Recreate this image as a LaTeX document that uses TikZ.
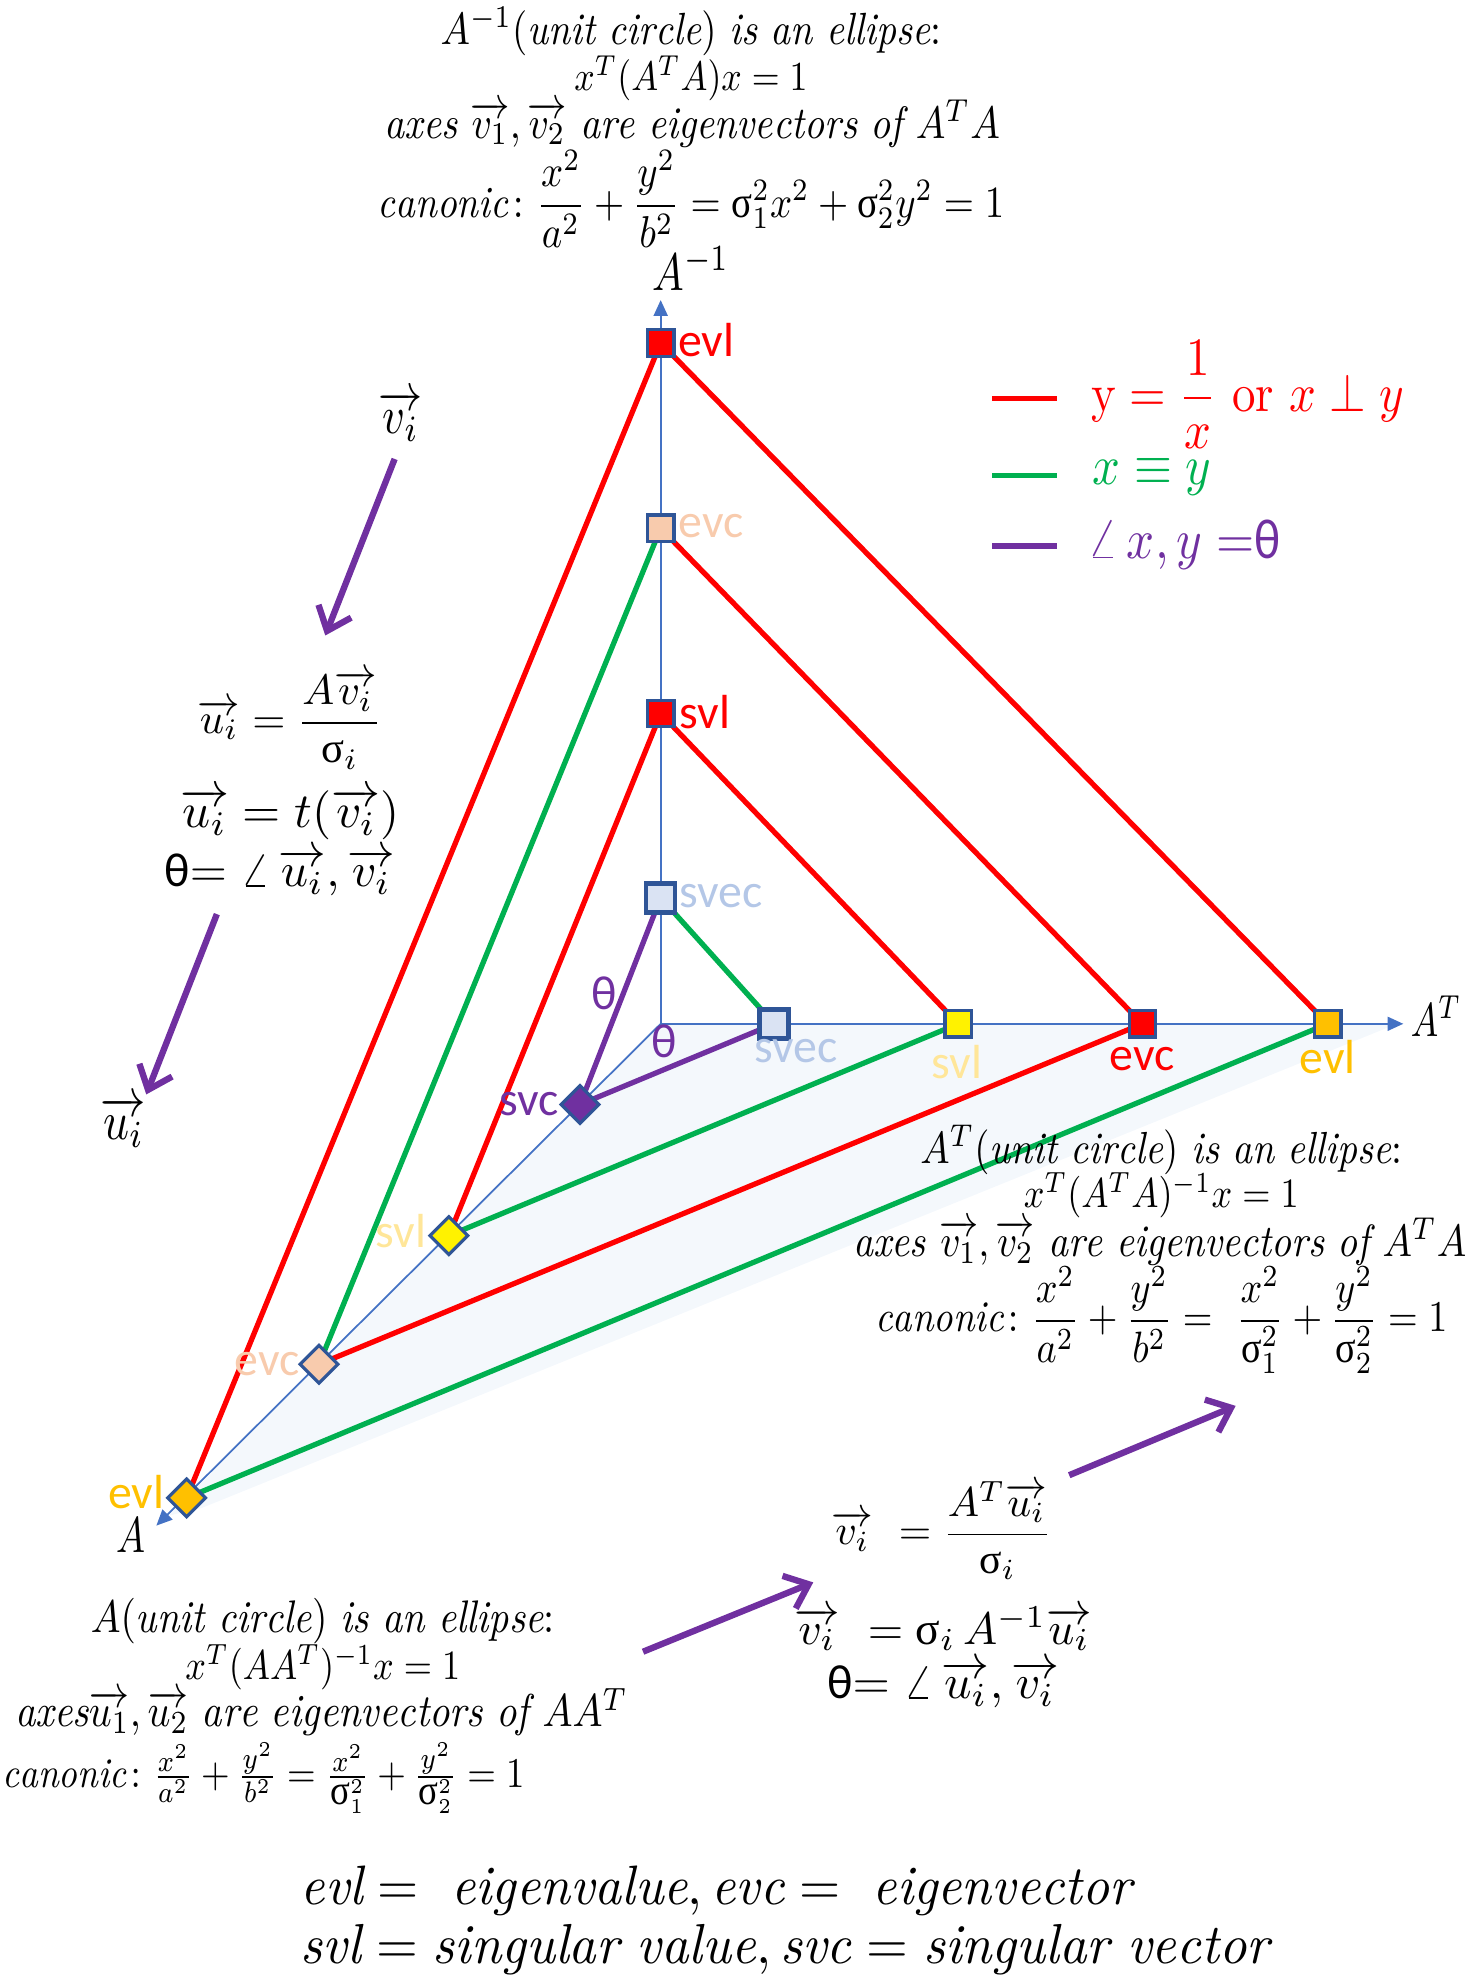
\documentclass[tikz,border=0pt]{standalone}
\usepackage{amsmath}
\usepackage{graphicx}
\usepackage{fontspec}
\newfontfamily\carl{Carlito}
\newfontfamily\grk{Liberation Serif}
\usetikzlibrary{arrows.meta,shapes.geometric}
\pgfdeclarelayer{bg}
\pgfsetlayers{bg,main}
\newlength\pxu
\setlength\pxu{0.012611cm}
\newcommand\fw[3][1.15]{\scalebox{1}[#1]{\resizebox{#2\pxu}{!}{#3}}}
\newcommand\vr[1]{\overrightarrow{#1}}
\newcommand\sig{\mbox{\grk σ}}
\newcommand\tht{\mbox{\carl θ}}
\definecolor{axisblue}{HTML}{4472C4}
\definecolor{nborder}{HTML}{2F5597}
\definecolor{gr}{HTML}{00B050}
\definecolor{purp}{HTML}{7030A0}
\definecolor{peach}{HTML}{F8CBAD}
\definecolor{orng}{HTML}{FFC000}
\definecolor{svecfill}{HTML}{DAE3F3}
\definecolor{sveclab}{HTML}{B4C7E7}
\definecolor{svllab}{HTML}{FFE699}
\definecolor{fillc}{HTML}{F4F8FC}
\begin{document}
\begin{tikzpicture}[x=1\pxu,y=-1\pxu,
  axis/.style={draw=axisblue,line width=0.5pt,-{Triangle[length=4.5pt,width=4pt]}},
  redl/.style={draw=red,line width=1.5pt},
  grl/.style={draw=gr,line width=1.5pt},
  purl/.style={draw=purp,line width=1.5pt},
  parr/.style={draw=purp,line width=1.8pt,-{Straight Barb[length=6pt,width=10pt]}},
  sq/.style={rectangle,draw=nborder,line width=0.9pt,inner sep=0pt,minimum size=21\pxu},
  sqv/.style={rectangle,draw=nborder,line width=1.3pt,inner sep=0pt,minimum size=23\pxu,fill=svecfill},
  dm/.style={diamond,draw=nborder,line width=0.9pt,inner sep=0pt,minimum size=31\pxu},
  lab/.style={font=\carl\fontsize{13.6}{16}\selectfont,inner sep=0pt},
  txt/.style={inner sep=0pt}]
\useasboundingbox (0,0) rectangle (1168,1568);
% coordinates
\coordinate (O) at (524,812);
\coordinate (Yend) at (524,238);
\coordinate (Xend) at (1113,812);
\coordinate (Dend) at (124,1210);
\coordinate (F1) at (1108,812);
\coordinate (F2) at (160,1196);
\coordinate (F3) at (134,1202);
% vertical nodes
\node[sq,fill=red] (ve) at (524,272) {};
\node[sq,fill=peach] (vc) at (524,419) {};
\node[sq,fill=red] (vs) at (524,566) {};
\node[sqv] (vv) at (524,712) {};
% horizontal nodes
\node[sqv] (hv) at (614,812) {};
\node[sq,fill=yellow] (hs) at (760,812) {};
\node[sq,fill=red] (hc) at (906,812) {};
\node[sq,fill=orng] (he) at (1053,812) {};
% diagonal nodes
\node[dm,fill=purp] (dv) at (460,876) {};
\node[dm,fill=yellow] (ds) at (356,980) {};
\node[dm,fill=peach] (dc) at (253,1082) {};
\node[dm,fill=orng] (de) at (148,1188) {};
\begin{pgfonlayer}{bg}
\fill[fillc] (O) -- (F1) -- (F2) -- (F3) -- cycle;
\draw[axis] (O) -- (Yend);
\draw[axis] (O) -- (Xend);
\draw[axis] (O) -- (Dend);
\draw[redl] (ve.center) -- (he.center);
\draw[redl] (ve.center) -- (de.center);
\draw[redl] (vc.center) -- (hc.center);
\draw[grl] (vc.center) -- (dc.center);
\draw[redl] (vs.center) -- (hs.center);
\draw[redl] (vs.center) -- (ds.center);
\draw[grl] (vv.center) -- (hv.center);
\draw[purl] (vv.center) -- (dv.center);
\draw[purl] (hv.center) -- (dv.center);
\draw[grl] (ds.center) -- (hs.center);
\draw[redl] (dc.center) -- (hc.center);
\draw[grl] (de.center) -- (he.center);
\end{pgfonlayer}
% node labels
\node[lab,text=red] (lve) at (560,270) {evl};
\node[lab,text=peach] (lvc) at (564,417) {evc};
\node[lab,text=red] (lvs) at (559,565) {svl};
\node[lab,text=sveclab] (lvv) at (572,711) {svec};
\node[lab,text=sveclab] (lhv) at (631,834) {svec};
\node[lab,text=svllab] (lhs) at (759,842) {svl};
\node[lab,text=red] (lhc) at (906,840) {evc};
\node[lab,text=orng] (lhe) at (1053,838) {evl};
\node[lab,text=purp] (ldv) at (420,876) {svc};
\node[lab,text=svllab] (lds) at (318,976) {svl};
\node[lab,text=peach] (ldc) at (212,1082) {evc};
\node[lab,text=orng] (lde) at (108,1183) {evl};
\node[lab,text=purp] (th1) at (479,788) {θ};
\node[lab,text=purp] (th2) at (527,826) {θ};
% axis labels
\node[txt] (lAinv) at (548,213) {\fw[1.25]{61}{$A^{-1}$}};
\node[txt] (lAT) at (1139,806) {\fw[1.3]{40}{$A^{T}$}};
\node[txt] (lA) at (104,1218) {\fw[1.3]{23}{$A$}};
% legend
\coordinate (lg1a) at (787,316); \coordinate (lg1b) at (838,316);
\coordinate (lg2a) at (787,377); \coordinate (lg2b) at (838,377);
\coordinate (lg3a) at (787,433); \coordinate (lg3b) at (838,433);
\draw[redl] (lg1a) -- (lg1b);
\draw[grl] (lg2a) -- (lg2b);
\draw[purl] (lg3a) -- (lg3b);
\node[txt,text=red,anchor=west] (lgt1) at (865,313) {\fw{248}{$\mathrm{y}=\dfrac{1}{x}\ \mathrm{or}\ x\perp y$}};
\node[txt,text=gr,anchor=west] (lgt2) at (866,378) {\fw{94}{$x\equiv y$}};
\node[txt,text=purp,anchor=west] (lgt3) at (862,432) {\fw{153}{$\angle\, x,y=$\tht}};
% top block
\node[txt] (t1) at (548,25) {\fw{397}{$A^{-1}(\mathit{unit\ circle})\ \mathit{is\ an\ ellipse}$:}};
\node[txt] (t2) at (548,62) {\fw{185}{$x^T(A^TA)x=1$}};
\node[txt] (t3) at (549,98) {\fw{488}{$\mathit{axes}\ \vr{v_1},\vr{v_2}\ \mathit{are\ eigenvectors\ of}\ A^TA$}};
\node[txt] (t4) at (548,158) {\fw{497}{$\mathit{canonic}\colon \dfrac{x^2}{a^2}+\dfrac{y^2}{b^2}=\sig_1^2x^2+\sig_2^2y^2=1$}};
% left block
\node[txt] (vlab) at (318,330) {\fw[1.2]{35}{$\vr{v_i}$}};
\node[txt] (ulab) at (98,890) {\fw[1.2]{36}{$\vr{u_i}$}};
\node[txt] (l1) at (230,571) {\fw[1.0]{146}{$\vr{u_i}=\dfrac{A\vr{v_i}}{\sig_i}$}};
\node[txt] (l2) at (230,646) {\fw[1.0]{174}{$\vr{u_i}=t(\vr{v_i})$}};
\node[txt] (l3) at (222,692) {\fw[1.0]{183}{\tht$=\angle\,\vr{u_i},\vr{v_i}$}};
% right block
\node[txt] (r1) at (921,912) {\fw{382}{$A^T(\mathit{unit\ circle})\ \mathit{is\ an\ ellipse}$:}};
\node[txt] (r2) at (921,948) {\fw{218}{$x^T(A^TA)^{-1}x=1$}};
\node[txt] (r3) at (920,985) {\fw{486}{$\mathit{axes}\ \vr{v_1},\vr{v_2}\ \mathit{are\ eigenvectors\ of}\ A^TA$}};
\node[txt] (r4) at (921,1047) {\fw{454}{$\mathit{canonic}\colon \dfrac{x^2}{a^2}+\dfrac{y^2}{b^2}=\ \dfrac{x^2}{\sig_1^2}+\dfrac{y^2}{\sig_2^2}=1$}};
% bottom right block
\node[txt] (b1) at (747,1214) {\fw[1.0]{175}{$\vr{v_i}\ =\dfrac{A^T\vr{u_i}}{\sig_i}$}};
\node[txt] (b2) at (748,1292) {\fw[1.0]{236}{$\vr{v_i}\ =\sig_i\,A^{-1}\vr{u_i}$}};
\node[txt] (b3) at (748,1336) {\fw[1.0]{184}{\tht$=\angle\,\vr{u_i},\vr{v_i}$}};
% bottom left block
\node[txt] (bl1) at (256,1286) {\fw{368}{$A(\mathit{unit\ circle})\ \mathit{is\ an\ ellipse}$:}};
\node[txt] (bl2) at (256,1322) {\fw{218}{$x^T(AA^T)^{-1}x=1$}};
\node[txt] (bl3) at (255,1358) {\fw{486}{$\mathit{axes}\vr{u_1},\vr{u_2}\ \mathit{are\ eigenvectors\ of}\ AA^T$}};
\node[txt] (bl4) at (209,1410) {\fw{414}{$\mathit{canonic}\colon \tfrac{x^2}{a^2}+\tfrac{y^2}{b^2}=\tfrac{x^2}{\sig_1^2}+\tfrac{y^2}{\sig_2^2}=1$}};
% bottom legend
\node[txt,anchor=west] (e1) at (238,1500) {\fw[1.05]{659}{$\mathit{evl}=\ \mathit{eigenvalue},\mathit{evc}=\ \mathit{eigenvector}$}};
\node[txt,anchor=west] (e2) at (238,1546) {\fw[1.05]{768}{$\mathit{svl}=\mathit{singular\ value},\mathit{svc}=\mathit{singular\ vector}$}};
% purple arrows
\coordinate (p1s) at (313,364); \coordinate (p1e) at (258,504);
\coordinate (p2s) at (172,725); \coordinate (p2e) at (116,868);
\coordinate (p3s) at (510,1310); \coordinate (p3e) at (645,1255);
\coordinate (p4s) at (848,1170); \coordinate (p4e) at (980,1115);
\draw[parr] (p1s) -- (p1e);
\draw[parr] (p2s) -- (p2e);
\draw[parr] (p3s) -- (p3e);
\draw[parr] (p4s) -- (p4e);
\end{tikzpicture}
\end{document}
